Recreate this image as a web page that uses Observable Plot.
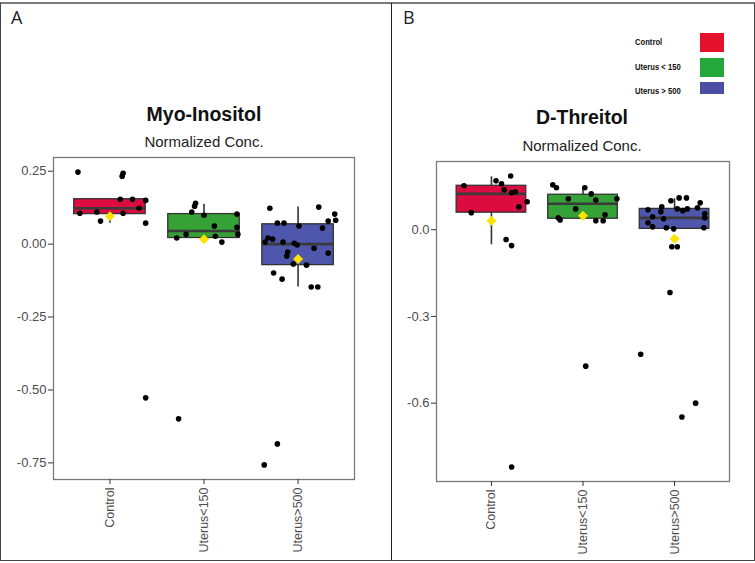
<!DOCTYPE html>
<html>
<head>
<meta charset="utf-8">
<script src="https://cdn.jsdelivr.net/npm/d3@7"></script>
<script src="https://cdn.jsdelivr.net/npm/@observablehq/plot@0.6"></script>
<style>
  html, body { margin: 0; padding: 0; background: #fff; }
  #root { position: relative; width: 755px; height: 563px; overflow: hidden; font-family: "Liberation Sans", Arial, sans-serif; }
  .abs { position: absolute; }
  .title { position: absolute; font-weight: bold; font-size: 19.5px; color: #111; text-align: center; width: 300px; }
  .sub { position: absolute; font-size: 15px; color: #222; text-align: center; width: 300px; }
  .letter { position: absolute; font-family: "Open Sans", sans-serif; font-size: 18px; color: #222; }
  .leg-label { position: absolute; font-weight: bold; font-size: 9px; color: #111; transform-origin: left center; transform: scaleX(0.85); white-space: nowrap; }
  .leg-sw { position: absolute; width: 24px; }
</style>
</head>
<body>
<div id="root"></div>
<script>
// ---------- data ----------
const categories = ["Control", "Uterus<150", "Uterus>500"];
const groupColors = ["#DC0B40", "#36A136", "#4E57AB"];
const legendLabels = ["Control", "Uterus < 150", "Uterus > 500"];
const legendColors = ["#E4102C", "#25A83B", "#4B4EA0"];

// Panel A: Myo-Inositol
const myoTicks = [0.25, 0, -0.25, -0.5, -0.75];
const myoDomain = [-0.807, 0.297];
const myoQ1 = [0.103, 0.021, -0.072];
const myoMedian = [0.123, 0.045, 0.000];
const myoQ3 = [0.154, 0.103, 0.068];
const myoWhiskerLow = [0.072, 0.021, -0.147];
const myoWhiskerHigh = [0.154, 0.137, 0.127];
const myoMean = [0.096, 0.017, -0.051];
const myoControlValues = [0.247, 0.243, 0.233, 0.154, 0.154, 0.150, 0.123, 0.110, 0.106, 0.106, 0.079, 0.072, -0.527];
const myoControlJitter = [-0.34, 0.14, 0.13, 0.11, 0.24, 0.38, 0.31, -0.14, -0.32, 0.14, -0.10, 0.38, 0.38];
const myoU150Values = [0.140, 0.130, 0.110, 0.099, 0.103, 0.062, 0.058, 0.034, 0.034, 0.021, 0.027, 0.007, -0.599];
const myoU150Jitter = [-0.09, -0.10, -0.13, 0.00, 0.35, 0.11, 0.35, 0.36, -0.19, -0.29, 0.12, 0.19, -0.27];
const myoU500Values = [0.123, 0.127, 0.103, 0.082, 0.079, 0.072, 0.072, 0.062, 0.055, 0.021, 0.017, 0.007, 0.007, 0.003, -0.003, -0.014, -0.031, -0.027, -0.041, -0.068, -0.072, -0.099, -0.120, -0.147, -0.147, -0.685, -0.757];
const myoU500Jitter = [-0.30, 0.22, 0.39, 0.40, 0.32, -0.22, -0.15, 0.01, 0.26, -0.32, -0.27, -0.35, -0.16, -0.04, -0.01, 0.17, 0.32, -0.11, -0.12, -0.05, 0.09, -0.26, -0.17, 0.14, 0.21, -0.22, -0.36];

// Panel B: D-Threitol
const thrTicks = [0, -0.3, -0.6];
const thrDomain = [-0.871, 0.236];
const thrQ1 = [0.059, 0.038, 0.003];
const thrMedian = [0.124, 0.090, 0.041];
const thrQ3 = [0.152, 0.121, 0.072];
const thrWhiskerLow = [-0.052, 0.038, -0.008];
const thrWhiskerHigh = [0.183, 0.148, 0.107];
const thrMean = [0.031, 0.048, -0.031];
const thrControlValues = [0.186, 0.169, 0.159, 0.152, 0.138, 0.131, 0.128, 0.097, 0.079, 0.059, -0.034, -0.055, -0.821];
const thrControlJitter = [0.21, 0.05, 0.11, -0.30, 0.14, 0.26, 0.22, 0.39, 0.30, -0.22, 0.16, 0.22, 0.22];
const thrU150Values = [0.155, 0.145, 0.145, 0.124, 0.107, 0.103, 0.107, 0.072, 0.052, 0.041, 0.034, 0.031, 0.031, -0.472];
const thrU150Jitter = [-0.33, -0.29, 0.02, 0.09, -0.16, 0.14, 0.37, -0.08, 0.24, -0.27, -0.25, 0.14, 0.22, 0.03];
const thrU500Values = [0.110, 0.110, 0.100, 0.093, 0.079, 0.076, 0.072, 0.072, 0.069, 0.062, 0.066, 0.055, 0.045, 0.041, 0.038, 0.024, 0.010, 0.007, 0.003, 0.007, -0.059, -0.059, -0.217, -0.431, -0.600, -0.648];
const thrU500Jitter = [0.05, 0.13, -0.04, 0.28, -0.14, 0.25, 0.03, 0.14, -0.29, -0.15, 0.09, 0.33, -0.24, 0.33, -0.12, -0.29, -0.24, -0.09, -0.01, 0.32, -0.03, 0.03, -0.05, -0.37, 0.23, 0.08];

// ---------- helpers ----------
function buildStats(q1, med, q3, wl, wh, mean) {
  return categories.map((c, i) => ({
    g: i + 1, name: c, q1: q1[i], med: med[i], q3: q3[i], wl: wl[i], wh: wh[i], mean: mean[i], color: groupColors[i]
  }));
}
function buildPoints(groups) {
  const out = [];
  groups.forEach(([vals, jit], gi) => {
    vals.forEach((v, k) => out.push({ g: gi + 1, off: jit[k], v }));
  });
  return out;
}

function panel({ stats, points, ticks, domain, fmt, width, height, marginLeft, marginRight, marginTop, marginBottom }) {
  const half = 0.38;
  return Plot.plot({
    width, height, marginLeft, marginRight, marginTop, marginBottom,
    style: { background: "transparent", overflow: "visible", fontFamily: "'Liberation Sans', Arial, sans-serif" },
    x: { domain: [0.4, 3.6], axis: null },
    y: { domain, axis: null },
    color: { type: "identity" },
    marks: [
      Plot.frame({ stroke: "#7a7a7a", strokeWidth: 1.3 }),
      Plot.axisY({
        ticks, tickFormat: fmt, tickSize: 5, tickPadding: 2, fontSize: 13,
        stroke: "#333", fill: "#4d4d4d", label: null
      }),
      Plot.axisX({
        ticks: [1, 2, 3], tickFormat: d => categories[d - 1], tickSize: 5, tickPadding: 3,
        tickRotate: -90, textAnchor: "end", fontSize: 12.5, stroke: "#333", fill: "#4d4d4d", label: null
      }),
      Plot.ruleX(stats, { x: "g", y1: "wl", y2: "q1", stroke: "#333", strokeWidth: 1.6 }),
      Plot.ruleX(stats, { x: "g", y1: "q3", y2: "wh", stroke: "#333", strokeWidth: 1.6 }),
      Plot.rect(stats, { x1: d => d.g - half, x2: d => d.g + half, y1: "q1", y2: "q3", fill: "color", stroke: "#333", strokeWidth: 1.3 }),
      Plot.ruleY(stats, { y: "med", x1: d => d.g - half, x2: d => d.g + half, stroke: "#3a3a3a", strokeWidth: 2.6 }),
      Plot.dot(points, { x: d => d.g + d.off, y: "v", r: 2.8, fill: "#000", stroke: null }),
      Plot.dot(stats, { x: "g", y: "mean", symbol: "diamond2", r: 4.5, fill: "#FCE300", stroke: null })
    ]
  });
}

// ---------- layout ----------
const root = document.getElementById("root");
function addDiv(cls, text, css) {
  const d = document.createElement("div");
  if (cls) d.className = cls;
  if (text != null) d.textContent = text;
  Object.assign(d.style, css);
  root.appendChild(d);
  return d;
}

// outer frame & divider
addDiv("abs", null, { left: "0px", top: "2px", border: "1px solid #444", borderTop: "2px solid #7a7a7a", boxSizing: "border-box", width: "755px", height: "559px" });
addDiv("abs", null, { left: "391px", top: "3px", width: "1px", height: "557px", background: "#222" });

addDiv("letter", "A", { left: "11px", top: "5px" });
addDiv("letter", "B", { left: "403px", top: "5px" });

addDiv("title", "Myo-Inositol", { left: "54px", top: "103px" });
addDiv("sub", "Normalized Conc.", { left: "54px", top: "133px" });
addDiv("title", "D-Threitol", { left: "432px", top: "106px" });
addDiv("sub", "Normalized Conc.", { left: "432px", top: "137px" });

// legend
const legBox = addDiv("abs", null, { left: "620px", top: "25px", width: "130px", height: "74px" });
legendLabels.forEach((lab, i) => {
  const t = document.createElement("div");
  t.className = "leg-label";
  t.textContent = lab;
  Object.assign(t.style, { left: "15px", top: (12 + i * 24.5) + "px" });
  legBox.appendChild(t);
  const s = document.createElement("div");
  s.className = "leg-sw";
  Object.assign(s.style, { left: "80px", top: (8 + i * 24.5) + "px", height: (i === 2 ? 12 : 19) + "px", background: legendColors[i] });
  legBox.appendChild(s);
});

// charts
const fmt2 = d => d.toFixed(2);
const fmt1 = d => d.toFixed(1);

const chartA = panel({
  stats: buildStats(myoQ1, myoMedian, myoQ3, myoWhiskerLow, myoWhiskerHigh, myoMean),
  points: buildPoints([[myoControlValues, myoControlJitter], [myoU150Values, myoU150Jitter], [myoU500Values, myoU500Jitter]]),
  ticks: myoTicks, domain: myoDomain, fmt: fmt2,
  width: 350, height: 404, marginLeft: 45, marginRight: 4, marginTop: 4, marginBottom: 78
});
const wrapA = addDiv("abs", null, { left: "8px", top: "153px" });
wrapA.appendChild(chartA);

const chartB = panel({
  stats: buildStats(thrQ1, thrMedian, thrQ3, thrWhiskerLow, thrWhiskerHigh, thrMean),
  points: buildPoints([[thrControlValues, thrControlJitter], [thrU150Values, thrU150Jitter], [thrU500Values, thrU500Jitter]]),
  ticks: thrTicks, domain: thrDomain, fmt: fmt1,
  width: 339, height: 402, marginLeft: 40, marginRight: 6, marginTop: 4, marginBottom: 78
});
const wrapB = addDiv("abs", null, { left: "396px", top: "157px" });
wrapB.appendChild(chartB);
</script>
</body>
</html>
